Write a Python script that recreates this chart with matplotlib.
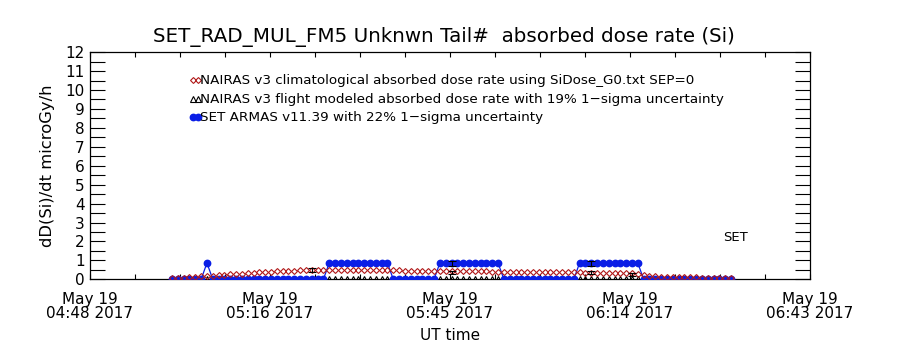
import numpy as np
import matplotlib.pyplot as plt
from matplotlib.ticker import MultipleLocator, FixedLocator

# time axis in minutes after 04:48 UT, May 19 2017
x_min, x_max = 0.0, 115.0
tick_minutes = [0.0, 28.75, 57.5, 86.25, 115.0]
tick_labels = ["May 19\n04:48 2017", "May 19\n05:16 2017", "May 19\n05:45 2017",
               "May 19\n06:14 2017", "May 19\n06:43 2017"]

# samples: first record and cadence (minutes)
t_start = 13.1
cadence = 0.93

# NAIRAS v3 climatological dose rate (microGy/h)
nairas_clim = [0.05, 0.06, 0.08, 0.10, 0.12, 0.15, 0.18, 0.20, 0.22, 0.24,
               0.26, 0.28, 0.30, 0.32, 0.34, 0.36, 0.38, 0.40, 0.42, 0.44,
               0.45, 0.46, 0.47, 0.48, 0.48, 0.49, 0.49, 0.50, 0.50, 0.51,
               0.51, 0.51, 0.50, 0.50, 0.50, 0.49, 0.49, 0.48, 0.48, 0.47,
               0.46, 0.46, 0.45, 0.45, 0.44, 0.44, 0.44, 0.43, 0.43, 0.43,
               0.43, 0.42, 0.42, 0.42, 0.42, 0.41, 0.41, 0.41, 0.40, 0.40,
               0.40, 0.39, 0.39, 0.38, 0.38, 0.38, 0.37, 0.37, 0.36, 0.36,
               0.36, 0.35, 0.35, 0.34, 0.34, 0.33, 0.33, 0.32, 0.32, 0.31,
               0.30, 0.24, 0.18, 0.15, 0.14, 0.13, 0.12, 0.12, 0.11, 0.10,
               0.10, 0.09, 0.08, 0.08, 0.07, 0.06, 0.05]

# NAIRAS v3 flight modeled dose rate
nairas_flight = [0.0] * 97

# SET ARMAS measured dose rate
armas = [0, 0, 0, 0, 0, 0, 0.86, 0, 0, 0,
         0, 0, 0, 0, 0, 0, 0, 0, 0, 0,
         0, 0, 0, 0, 0, 0, 0, 0.86, 0.86, 0.86,
         0.86, 0.86, 0.86, 0.86, 0.86, 0.86, 0.86, 0.86, 0, 0,
         0, 0, 0, 0, 0, 0, 0.86, 0.86, 0.86, 0.86,
         0.86, 0.86, 0.86, 0.86, 0.86, 0.86, 0.86, 0, 0, 0,
         0, 0, 0, 0, 0, 0, 0, 0, 0, 0,
         0.86, 0.86, 0.86, 0.86, 0.86, 0.86, 0.86, 0.86, 0.86, 0.86,
         0.86, 0, 0, 0, 0, 0, 0, 0, 0, 0,
         0, 0, 0, 0, 0, 0, 0]

# 1-sigma uncertainty bars (sample index, value, half width)
err_idx = [24, 48, 48, 72, 72, 79]
err_val = [0.49, 0.84, 0.37, 0.84, 0.36, 0.25]
err_sig = [0.09, 0.14, 0.08, 0.13, 0.07, 0.10]

t = t_start + cadence * np.arange(len(armas))
t_err = [t[i] for i in err_idx]

plt.rcParams['font.family'] = ['DejaVu Sans']
fig = plt.figure(figsize=(9, 3.5), dpi=100)
ax = fig.add_axes([0.1, 0.202, 0.8, 0.649])

ax.plot(t, armas, color='#0a1ee6', lw=0.9, marker='o', ms=4.6, mec='#0a1ee6', zorder=3)
ax.plot(t, nairas_clim, ls='none', marker='D', ms=3.0, mfc='none', mec='#b01818', mew=0.8, zorder=4)
ax.plot(t, nairas_flight, ls='none', marker='^', ms=4, mfc='none', mec='black', mew=0.8, zorder=2)
ax.errorbar(t_err, err_val, yerr=err_sig, fmt='none', ecolor='black', elinewidth=0.8,
            capsize=3, capthick=0.8, zorder=5)

ax.set_xlim(x_min, x_max)
ax.set_ylim(0, 12)

ax.xaxis.set_major_locator(FixedLocator(tick_minutes))
ax.set_xticklabels(tick_labels, fontsize=11, linespacing=0.9)
ax.xaxis.set_minor_locator(MultipleLocator(28.75 / 4))
ax.yaxis.set_major_locator(MultipleLocator(1))
ax.yaxis.set_minor_locator(MultipleLocator(0.5))

ax.tick_params(axis='y', which='both', direction='in', length=11, width=0.8,
               left=True, right=True, labelsize=11, pad=4)
ax.tick_params(axis='x', which='both', direction='in', length=3.6, width=0.8,
               top=True, bottom=True, pad=9)
ytl = ax.get_yticklabels()
ytl[0].set_va('bottom')
ytl[-1].set_va('top')
for s in ax.spines.values():
    s.set_linewidth(0.9)

ax.set_ylabel('dD(Si)/dt microGy/h', fontsize=11.8, labelpad=7)
ax.set_xlabel('UT time', fontsize=11, labelpad=5)
fig.text(0.493, 0.894, 'SET_RAD_MUL_FM5 Unknwn Tail#  absorbed dose rate (Si)',
         ha='center', va='center', fontsize=14.3)

# legend rows drawn by hand
rows = [
    (0.877, dict(ls='none', marker='D', ms=3.0, mfc='none', mec='#b01818', mew=0.8),
     'NAIRAS v3 climatological absorbed dose rate using SiDose_G0.txt SEP=0'),
    (0.793, dict(ls='none', marker='^', ms=4, mfc='none', mec='black', mew=0.8),
     'NAIRAS v3 flight modeled absorbed dose rate with 19% 1\u2212sigma uncertainty'),
    (0.714, dict(color='#0a1ee6', lw=1.5, marker='o', ms=4.6, mec='#0a1ee6'),
     'SET ARMAS v11.39 with 22% 1\u2212sigma uncertainty'),
]
for y, style, label in rows:
    ax.plot([0.143, 0.150], [y, y], transform=ax.transAxes, clip_on=False, **style)
    ax.text(0.153, y, label, transform=ax.transAxes, va='center', ha='left', fontsize=9.7)

ax.text(0.896, 0.186, 'SET', transform=ax.transAxes, ha='center', va='center', fontsize=9.5)

fig.savefig('out.png', dpi=100)
